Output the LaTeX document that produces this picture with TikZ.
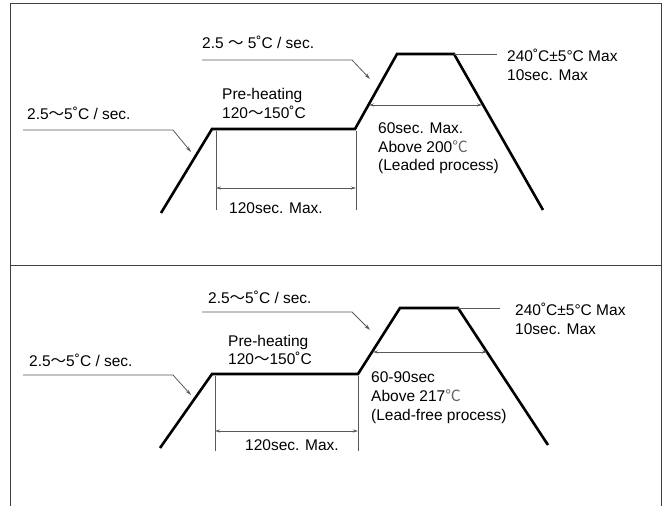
\documentclass[tikz,border=0pt]{standalone}
\usepackage{fontspec}
\setmainfont{Liberation Sans}
\newfontfamily\cjkf{Noto Sans CJK SC}
\usetikzlibrary{arrows.meta}
\newcommand{\myTilde}{{\cjkf ～}}
\newcommand{\myCel}{{\cjkf\color{black!60}℃}}
\tikzset{
  lbl/.style={anchor=base west, inner sep=0pt, font=\fontsize{15.5}{19}\selectfont},
  profile/.style={line width=2.6pt, line join=miter, draw=black},
  leader/.style={line width=0.8pt, draw=black!65},
  leaderarrow/.style={leader, -{Stealth[length=6pt,width=3.5pt]}},
  dimarrow/.style={leader, {Stealth[length=5pt,width=3pt]}-{Stealth[length=5pt,width=3pt]}},
  framepart/.style={line width=1pt, draw=black!75},
}
\begin{document}
\begin{tikzpicture}[x=1pt,y=-1pt]
\useasboundingbox (0,0) rectangle (667,506);
% frame
\coordinate (fbl) at (10,506);
\coordinate (ftl) at (10,3);
\coordinate (ftr) at (661,3);
\coordinate (fbr) at (661,506);
\coordinate (fml) at (10,265);
\coordinate (fmr) at (661,265);
\draw[framepart] (fbl) -- (ftl) -- (ftr) -- (fbr);
\draw[framepart] (fml) -- (fmr);

% ===== top panel =====
\coordinate (a0) at (161,213);
\coordinate (a1) at (212,129);
\coordinate (a2) at (355,129);
\coordinate (a3) at (397,54);
\coordinate (a4) at (454,54);
\coordinate (a5) at (543,210);
\draw[profile] (a0) -- (a1) -- (a2) -- (a3) -- (a4) -- (a5);

\coordinate (pk1) at (497,54);
\draw[leader] (a4) -- (pk1);

\coordinate (l1s) at (23,130);
\coordinate (l1k) at (173,130);
\coordinate (l1t) at (191,152);
\draw[leaderarrow] (l1s) -- (l1k) -- (l1t);

\coordinate (u1s) at (202,60);
\coordinate (u1k) at (352,60);
\coordinate (u1t) at (370,79);
\draw[leaderarrow] (u1s) -- (u1k) -- (u1t);

\coordinate (v1at) at (216,131);
\coordinate (v1ab) at (216,210);
\coordinate (v1bt) at (356,131);
\coordinate (v1bb) at (356,210);
\draw[leader] (v1at) -- (v1ab);
\draw[leader] (v1bt) -- (v1bb);
\coordinate (d1a) at (216,188);
\coordinate (d1b) at (356,188);
\draw[dimarrow] (d1a) -- (d1b);

\coordinate (e1a) at (369,105);
\coordinate (e1b) at (482,105);
\draw[dimarrow] (e1a) -- (e1b);

\node[lbl] (t1top) at (202,48) {2.5 \myTilde{} 5˚C / sec.};
\node[lbl] (t1left) at (27,119) {2.5\myTilde 5˚C / sec.};
\node[lbl] (t1pre) at (222,99) {Pre-heating};
\node[lbl] (t1pret) at (222,118) {120\myTilde 150˚C};
\node[lbl] (t1peak) at (507,61) {240˚C±5°C Max};
\node[lbl] (t1peakb) at (507,80) {10sec. Max};
\node[lbl] (t1r1) at (378,133) {60sec. Max.};
\node[lbl] (t1r2) at (378,152) {Above 200\myCel};
\node[lbl] (t1r3) at (378,170) {(Leaded process)};
\node[lbl] (t1dim) at (229,213) {120sec. Max.};

% ===== bottom panel =====
\coordinate (b0) at (160,448);
\coordinate (b1) at (212,374);
\coordinate (b2) at (358,374);
\coordinate (b3) at (400,308);
\coordinate (b4) at (458,308);
\coordinate (b5) at (548,445);
\draw[profile] (b0) -- (b1) -- (b2) -- (b3) -- (b4) -- (b5);

\coordinate (pk2) at (500,308);
\draw[leader] (b4) -- (pk2);

\coordinate (l2s) at (23,375);
\coordinate (l2k) at (173,375);
\coordinate (l2t) at (191,395);
\draw[leaderarrow] (l2s) -- (l2k) -- (l2t);

\coordinate (u2s) at (202,312);
\coordinate (u2k) at (352,312);
\coordinate (u2t) at (370,330);
\draw[leaderarrow] (u2s) -- (u2k) -- (u2t);

\coordinate (v2at) at (215,376);
\coordinate (v2ab) at (215,451);
\coordinate (v2bt) at (358,376);
\coordinate (v2bb) at (358,451);
\draw[leader] (v2at) -- (v2ab);
\draw[leader] (v2bt) -- (v2bb);
\coordinate (d2a) at (215,431);
\coordinate (d2b) at (358,431);
\draw[dimarrow] (d2a) -- (d2b);

\coordinate (e2a) at (373,352);
\coordinate (e2b) at (487,352);
\draw[dimarrow] (e2a) -- (e2b);

\node[lbl] (t2top) at (208,303) {2.5\myTilde 5˚C / sec.};
\node[lbl] (t2left) at (29,366) {2.5\myTilde 5˚C / sec.};
\node[lbl] (t2pre) at (228,346) {Pre-heating};
\node[lbl] (t2pret) at (228,364.5) {120\myTilde 150˚C};
\node[lbl] (t2peak) at (515,315.5) {240˚C±5°C Max};
\node[lbl] (t2peakb) at (515,334) {10sec. Max};
\node[lbl] (t2r1) at (371,382) {60-90sec};
\node[lbl] (t2r2) at (371,401.5) {Above 217\myCel};
\node[lbl] (t2r3) at (371,420.5) {(Lead-free process)};
\node[lbl] (t2dim) at (245,450) {120sec. Max.};
\end{tikzpicture}
\end{document}
